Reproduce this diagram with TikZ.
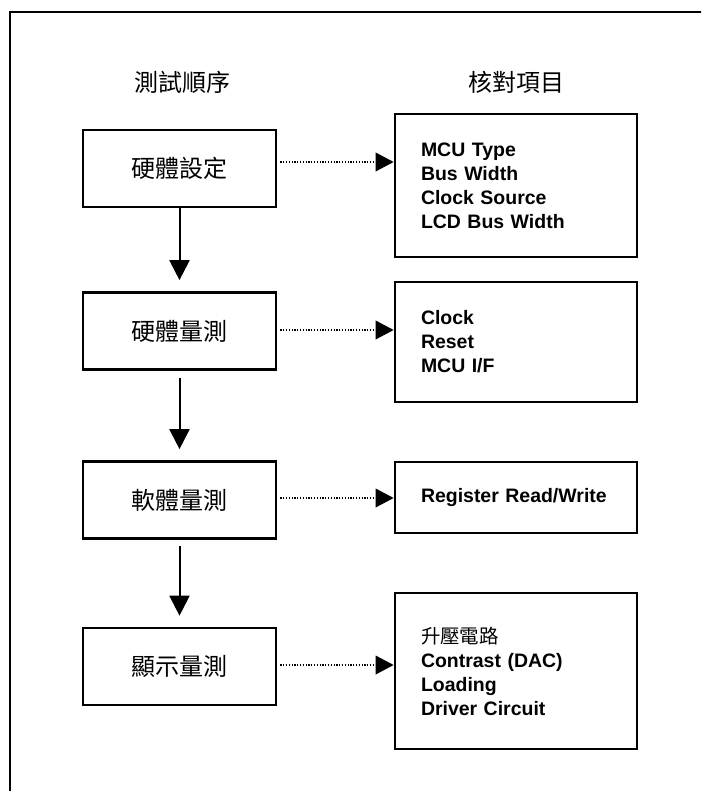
\documentclass[tikz,border=0pt]{standalone}
\usepackage{fontspec}
\setmainfont{Liberation Sans}
\newfontfamily\cjk{Noto Sans CJK TC}
\usetikzlibrary{arrows.meta, calc}

\tikzset{
  stepbox/.style={draw, line width=2pt, minimum width=144.75pt, minimum height=57.75pt,
    inner sep=0pt, font=\cjk\fontsize{18}{22}\selectfont},
  head/.style={font=\cjk\fontsize{18}{22}\selectfont},
  chkbox/.style={draw, line width=2pt, text width=142.5pt, inner xsep=19.5pt, inner ysep=0pt,
    align=left, font=\bfseries\fontsize{14.6}{18}\selectfont},
  flow/.style={-{Triangle[width=15pt,length=15pt]}, line width=1.5pt},
  link/.style={-{Triangle[width=14pt,length=13.5pt]}, line width=1pt, dash pattern=on 0.9pt off 1.2pt},
}

\begin{document}
\begin{tikzpicture}[x=0.75pt, y=-0.75pt]
  \clip (0,0) rectangle (701,791);
  % outer frame (cut off at right and bottom)
  \draw[line width=1.5pt] (10,12) rectangle (720,810);

  \node[head] (hseq) at (182,82) {測試順序};
  \node[head] (hchk) at (516,82) {核對項目};

  % test sequence
  \node[stepbox] (set)  at (179.5,168.5) {硬體設定};
  \node[stepbox] (meas) at (179.5,331)   {硬體量測};
  \node[stepbox] (soft) at (179.5,500)   {軟體量測};
  \node[stepbox] (disp) at (179.5,666.5) {顯示量測};

  % check items
  \node[chkbox, minimum height=107.25pt] (chk1) at (516,185.5)
    {MCU Type\\Bus Width\\Clock Source\\LCD Bus Width};
  \node[chkbox, minimum height=90pt] (chk2) at (516,342)
    {Clock\\Reset\\MCU I/F};
  \node[chkbox, minimum height=53.25pt] (chk3) at (516,497.5)
    {Register Read/Write};
  \node[chkbox, minimum height=117pt] (chk4) at (516,671)
    {{\cjk\mdseries 升壓電路}\\Contrast (DAC)\\Loading\\Driver Circuit};

  \foreach \a/\b/\s in {set/meas/0pt, meas/soft/5pt, soft/disp/4.5pt}
    \draw[flow, shorten <=\s, shorten >=8.25pt] (\a.south) -- (\b.north);

  \foreach \a/\b/\d in {set/chk1/6.5, meas/chk2/1, soft/chk3/2, disp/chk4/1.5}
    \draw[link] ($(\a.east)+(3,-\d)$) -- ($(\a.east -| \b.west)+(0,-\d)$);
\end{tikzpicture}
\end{document}
